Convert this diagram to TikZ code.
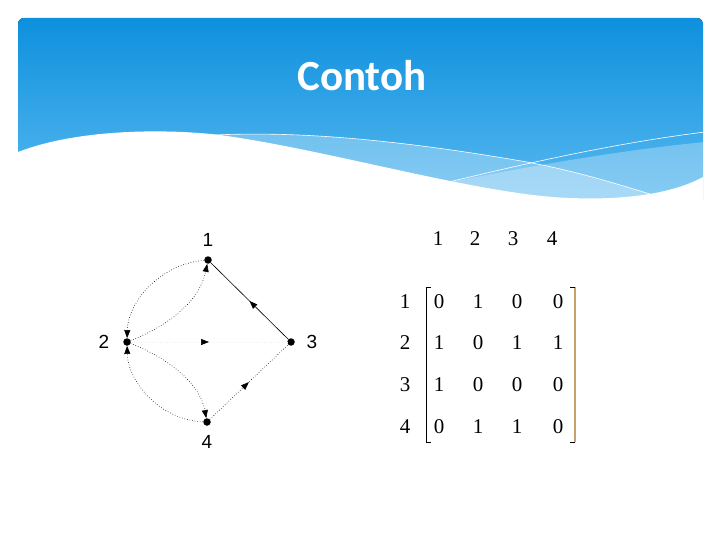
\documentclass[tikz,border=0pt]{standalone}
\usepackage{fontspec}
\setmainfont{Liberation Serif}
\newfontfamily\titlefont{Carlito}
\newfontfamily\graphfont{Liberation Sans}
\usetikzlibrary{arrows.meta,decorations.markings}

\definecolor{hdtop}{RGB}{14,144,221}
\definecolor{hdbot}{RGB}{88,185,240}
\definecolor{brk}{RGB}{200,160,110}

\begin{document}
\begin{tikzpicture}[x=1pt, y=-1pt,
    vtx/.style={circle, fill=black, inner sep=0pt, minimum size=7.5pt},
    lbl/.style={font=\graphfont\fontsize{19}{19}\selectfont},
    num/.style={inner sep=0pt, font=\fontsize{21}{21}\selectfont},
    edge/.style={line width=0.6pt},
    tip/.style={-{Triangle[length=8pt,width=6pt]}},
    midarrow/.style={postaction={decorate}, decoration={markings,
        mark=at position 0.5 with {\arrow[black]{Triangle[length=8pt,width=6pt]}}}}]
        \useasboundingbox (0,0) rectangle (720,540);

        % Header
        \begin{scope}
            \clip[rounded corners=6pt] (18,18) rectangle (703,260);
            \fill[top color=hdtop, bottom color=hdbot] (18,18) rectangle (703,200);
            \fill[white, opacity=0.28] (215,135) .. controls (300,131) and (400,140) .. (527,162)
                .. controls (580,172) and (620,185) .. (650,194) -- (720,260) -- (215,260) -- cycle;
            \fill[white, opacity=0.28] (440,184) .. controls (520,168) and (620,150) .. (705,142)
                -- (720,260) -- (440,260) -- cycle;
            \draw[white, line width=0.6pt] (215,135) .. controls (300,131) and (400,140) .. (527,162)
                .. controls (580,172) and (620,185) .. (650,194);
            \draw[white, line width=0.6pt] (440,184) .. controls (500,170) and (600,145) .. (705,132);
            \fill[white] (703,177) .. controls (670,195) and (620,200) .. (570,198)
                .. controls (480,195) and (330,150) .. (220,135)
                .. controls (170,129) and (80,128) .. (18,152) -- (0,152) -- (0,260) -- (720,260) -- cycle;
        \end{scope}
        \node[white, anchor=base, font=\titlefont\bfseries\fontsize{43}{43}\selectfont] (title) at (362,91) {Contoh};

        % Graph
        \node[vtx] (n1) at (208,260) {};
        \node[vtx] (n2) at (127,342) {};
        \node[vtx] (n3) at (291,342) {};
        \node[vtx] (n4) at (207,422) {};
        \node[lbl] (l1) at (208,240) {1};
        \node[lbl] (l2) at (104,342) {2};
        \node[lbl] (l3) at (312,342) {3};
        \node[lbl] (l4) at (207,442) {4};

        % Edges
        \draw[edge, midarrow] (n3) -- (n1);
        \draw[edge, dotted, midarrow] (n4) -- (n3);
        \draw[edge, black!5, dotted, midarrow] (n2) -- (n3);
        \draw[edge, dotted, tip] (n1) .. controls (160,264) and (128,302) .. (n2);
        \draw[edge, dotted, tip] (n2) .. controls (170,325) and (200,300) .. (n1);
        \draw[edge, dotted, tip] (n4) .. controls (160,420) and (128,382) .. (n2);
        \draw[edge, dotted, tip] (n2) .. controls (170,359) and (200,384) .. (n4);

        % Matrix labels
        \node[num] (c1) at (438,239) {1};
        \node[num] (c2) at (475,239) {2};
        \node[num] (c3) at (513,239) {3};
        \node[num] (c4) at (552,239) {4};
        \node[num] (r1) at (405,302) {1};
        \node[num] (r2) at (405,343) {2};
        \node[num] (r3) at (405,385) {3};
        \node[num] (r4) at (405,427) {4};

        % Entries
        \node[num] (m11) at (439,302) {0}; \node[num] (m12) at (478,302) {1};
        \node[num] (m13) at (517,302) {0}; \node[num] (m14) at (558,302) {0};
        \node[num] (m21) at (439,343) {1}; \node[num] (m22) at (478,343) {0};
        \node[num] (m23) at (517,343) {1}; \node[num] (m24) at (558,343) {1};
        \node[num] (m31) at (439,385) {1}; \node[num] (m32) at (478,385) {0};
        \node[num] (m33) at (517,385) {0}; \node[num] (m34) at (558,385) {0};
        \node[num] (m41) at (439,427) {0}; \node[num] (m42) at (478,427) {1};
        \node[num] (m43) at (517,427) {1}; \node[num] (m44) at (558,427) {0};

        % Brackets
        \draw[line width=0.8pt] (431,287) -- (426,287) -- (426,442) -- (431,442);
        \draw[brk, line width=1.6pt] (575,287) -- (575,442);
        \draw[line width=0.8pt] (570,287) -- (575,287);
        \draw[line width=0.8pt] (570,442) -- (575,442);
    \end{tikzpicture}
\end{document}
